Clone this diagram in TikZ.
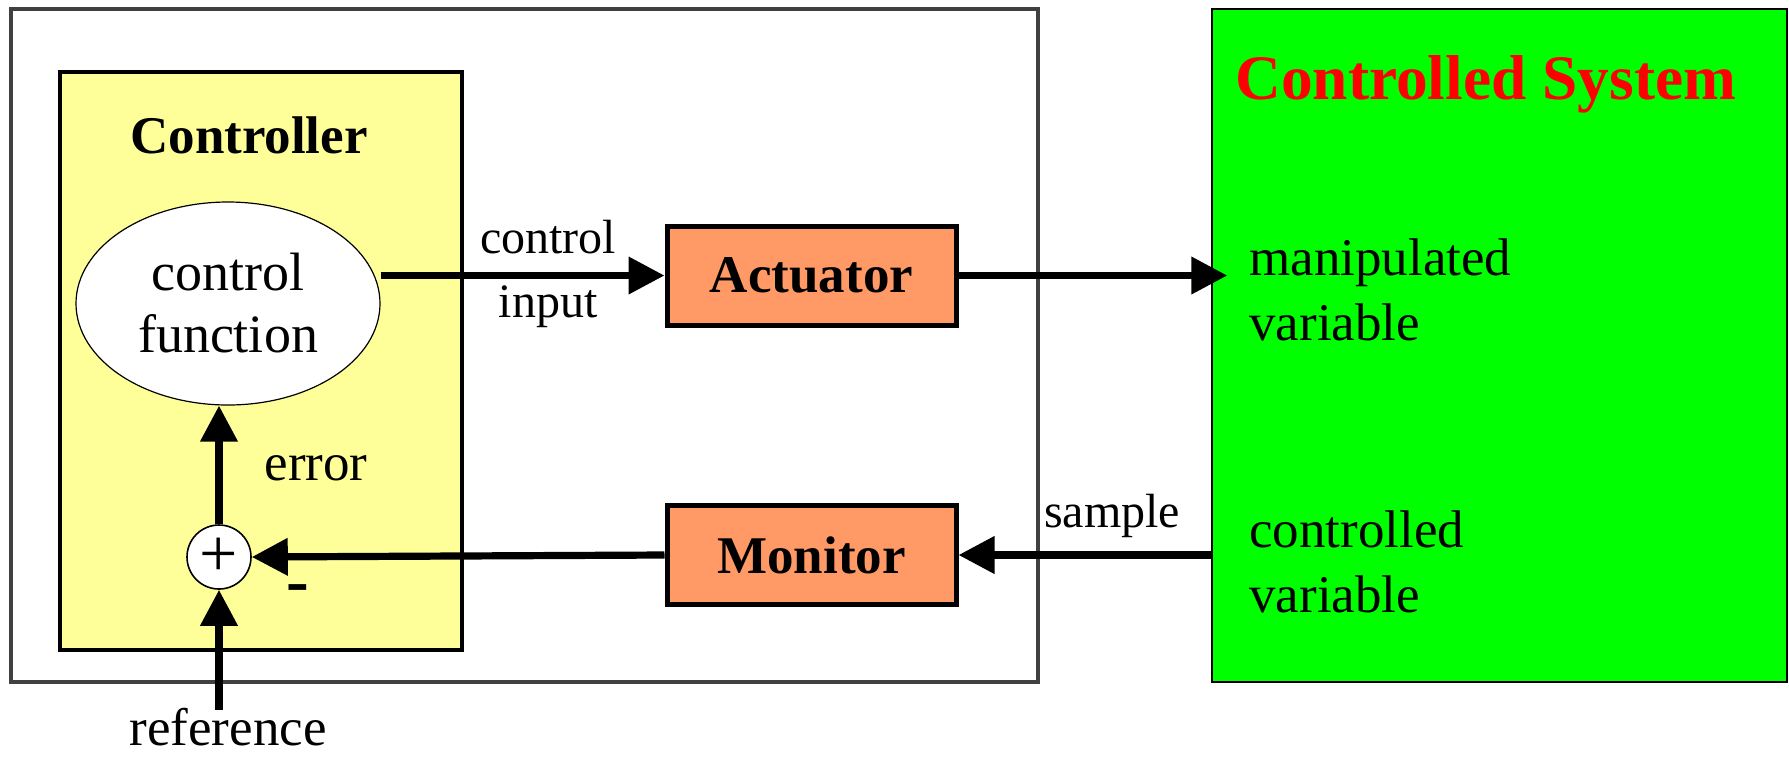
\documentclass[tikz,border=0pt]{standalone}
\usepackage{fontspec}
\setmainfont{Liberation Serif}
\usepackage{xcolor}
\definecolor{cFrame}{HTML}{404040}
\definecolor{cCtrl}{HTML}{FFFF99}
\definecolor{cBlock}{HTML}{FF9966}
\definecolor{cPlant}{HTML}{00FF00}
\definecolor{cTitle}{HTML}{FF0000}
\usetikzlibrary{positioning,arrows.meta,shapes.geometric}
\newcommand\fontLbl{\fontsize{24}{32}\selectfont}
\newcommand\fontFn{\fontsize{27}{31}\selectfont}
\newcommand\fontTxt{\fontsize{26.5}{32.5}\selectfont}
\newcommand\fontHead{\fontsize{26.5}{32}\selectfont\bfseries}
\newcommand\fontTitle{\fontsize{31.7}{38}\selectfont\bfseries}
\tikzset{
  frame-box/.style={draw=cFrame,line width=1.9pt,rectangle,inner sep=0pt},
  ctrl-box/.style={draw=black,line width=2.3pt,fill=cCtrl,rectangle,inner sep=0pt},
  plant-box/.style={draw=black,line width=0.7pt,fill=cPlant,rectangle,inner sep=0pt},
  block-box/.style={draw=black,line width=2.5pt,fill=cBlock,rectangle,inner sep=0pt,
    minimum width=144.5pt,minimum height=49.5pt,font=\fontHead},
  fn-ellipse/.style={draw=black,line width=0.6pt,fill=white,ellipse,inner sep=0pt,
    minimum width=152pt,minimum height=101.5pt,align=center,font=\fontFn},
  sum-node/.style={draw=black,line width=0.8pt,fill=white,circle,inner sep=0pt,
    minimum size=32pt,font=\fontsize{34}{34}\selectfont},
  flow/.style={-{Triangle[length=18pt,width=18pt]},line width=3.6pt,draw=black},
  lbl-small/.style={inner sep=0pt,align=center,font=\fontLbl},
  lbl-text/.style={inner sep=0pt,align=left,font=\fontTxt},
}
\begin{document}
\begin{tikzpicture}[x=0.5pt,y=-0.5pt]
  \useasboundingbox (0,0) rectangle (1789,757);
  % frames
  \node[frame-box,minimum width=513.5pt,minimum height=336.5pt] (frame) at (524.5,345.5) {};
  \node[plant-box,minimum width=287.5pt,minimum height=336.5pt] (plant) at (1499.5,345.5) {};
  \node[ctrl-box,minimum width=201pt,minimum height=289pt] (ctrl) at (261,361) {};
  % controller parts
  \node[inner sep=0pt,font=\fontHead] (ctrl-title) at (249,135) {Controller};
  \node[fn-ellipse] (ctrl-fn) at (228,303.5) {control\\function};
  \node[sum-node] (sum) at (219,557) {+};
  \node[inner sep=0pt,font=\fontTxt] (err-lbl) at (316,468) {error};
  \node[inner sep=0pt,font=\fontsize{34}{34}\selectfont\bfseries] (neg-lbl) at (298,594) {-};
  \coordinate (ref-in) at (219,710);
  \node[inner sep=0pt,font=\fontTxt] (ref-lbl) at (228,727) {reference};
  % blocks
  \node[block-box] (act) at (811.5,275.5) {Actuator};
  \node[block-box] (mon) at (811.5,555) {Monitor};
  \node[lbl-small] (ci-lbl) at (548,274) {control\\input};
  \node[lbl-small] (smp-lbl) at (1112,516) {sample};
  % controlled system
  \node[anchor=base west,inner sep=0pt,font=\fontTitle,text=cTitle] (plant-title) at (1235,99) {Controlled System};
  \node[lbl-text,anchor=west] (mv-lbl) at (1249,290) {manipulated\\variable};
  \node[lbl-text,anchor=west] (cv-lbl) at (1249,562) {controlled\\variable};
  % connectors
  \draw[flow] (act.west -| ctrl-fn.east) -- (act.west);
  \draw[flow,shorten >=-8pt] (act.east) -- (act.east -| plant.west);
  \draw[flow] (plant.west |- mon.east) -- (mon.east);
  \draw[flow] (mon.west) -- (sum.east);
  \draw[flow] (sum.north) -- (sum.north |- ctrl-fn.south);
  \draw[flow] (ref-in) -- (sum.south);
\end{tikzpicture}
\end{document}
